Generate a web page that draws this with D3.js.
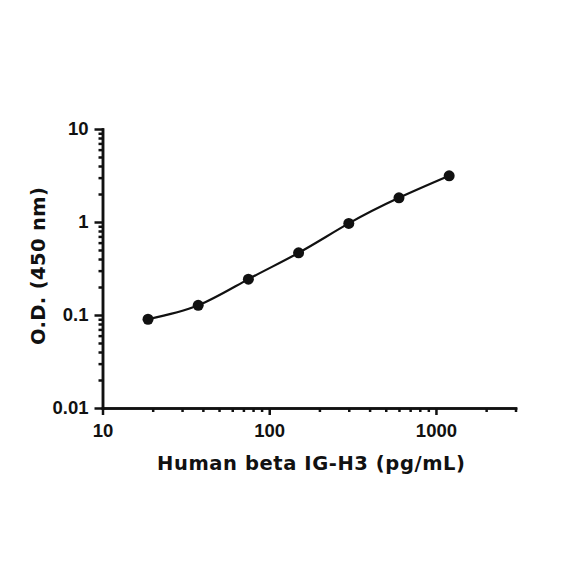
<!DOCTYPE html>
<html>
<head>
<meta charset="utf-8">
<script src="https://cdn.jsdelivr.net/npm/d3@7"></script>
<style>
  body { margin: 0; background: #fff; }
  svg text { font-family: "Liberation Sans", Arial, sans-serif; font-weight: bold; fill: #111; }
  svg text.title { font-family: "DejaVu Sans", sans-serif; }
</style>
</head>
<body>
<div class="svg-target"></div>
<script>
// data
const conc = [18.75, 37.5, 75, 150, 300, 600, 1200];
const od = [0.09, 0.127, 0.243, 0.466, 0.966, 1.82, 3.14];

const xTicks = [10, 100, 1000];
const xTickLabels = ['10', '100', '1000'];
const yTicks = [0.01, 0.1, 1, 10];
const yTickLabels = ['0.01', '0.1', '1', '10'];

const xTitle = 'Human beta IG-H3 (pg/mL)';
const yTitle = 'O.D. (450 nm)';

const w = 584;
const h = 584;

const svg = d3.select('.svg-target')
    .append('svg')
    .attr('width', w)
    .attr('height', h);

// scales
const xScale = d3.scaleLog()
    .domain([10, 3000])
    .range([102.5, 515.5]);

const yScale = d3.scaleLog()
    .domain([0.01, 10])
    .range([408, 129]);

// minor tick values (2..9 per decade)
const xMinor = [];
[10, 100, 1000].forEach(b => {
    for (let k = 2; k <= 9; k++) if (b * k <= 3000) xMinor.push(b * k);
});
const yMinor = [];
[0.01, 0.1, 1].forEach(b => {
    for (let k = 2; k <= 9; k++) yMinor.push(b * k);
});

const styleAxis = g => {
    g.selectAll('path, line')
        .attr('stroke', '#111')
        .attr('stroke-width', 2.5);
    g.select('.domain').attr('stroke-linecap', 'square');
};

// x axis
svg.append('g')
    .attr('transform', 'translate(0, 408)')
    .call(d3.axisBottom(xScale).tickValues(xMinor).tickSize(4).tickSizeOuter(0).tickFormat(''))
    .call(styleAxis);

svg.append('g')
    .attr('transform', 'translate(0, 408)')
    .call(d3.axisBottom(xScale).tickValues(xTicks).tickSize(7).tickSizeOuter(0).tickPadding(9)
        .tickFormat((d, i) => xTickLabels[i]))
    .call(styleAxis)
    .call(g => g.selectAll('text').attr('font-size', 18.5).attr('fill', '#111'));

// y axis
svg.append('g')
    .attr('transform', 'translate(102.5, 0)')
    .call(d3.axisLeft(yScale).tickValues(yMinor).tickSize(4).tickSizeOuter(0).tickFormat(''))
    .call(styleAxis);

svg.append('g')
    .attr('transform', 'translate(102.5, 0)')
    .call(d3.axisLeft(yScale).tickValues(yTicks).tickSize(8).tickSizeOuter(0).tickPadding(6)
        .tickFormat((d, i) => yTickLabels[i]))
    .call(styleAxis)
    .call(g => g.selectAll('text').attr('font-size', 18.5).attr('fill', '#111'));

// axis titles
svg.append('text')
    .attr('class', 'title')
    .attr('x', 311)
    .attr('y', 470)
    .attr('text-anchor', 'middle')
    .attr('font-size', 19.5)
    .attr('textLength', 308)
    .attr('lengthAdjust', 'spacing')
    .text(xTitle);

svg.append('text')
    .attr('class', 'title')
    .attr('transform', 'translate(45, 266) rotate(-90)')
    .attr('text-anchor', 'middle')
    .attr('font-size', 19.5)
    .attr('textLength', 158)
    .attr('lengthAdjust', 'spacing')
    .text(yTitle);

// fitted curve
const line = d3.line()
    .x((d, i) => xScale(conc[i]))
    .y(d => yScale(d))
    .curve(d3.curveNatural);

svg.append('path')
    .datum(od)
    .attr('d', line)
    .attr('fill', 'none')
    .attr('stroke', '#111')
    .attr('stroke-width', 2.2);

// points
svg.selectAll('circle')
    .data(od)
    .enter()
    .append('circle')
        .attr('cx', (d, i) => xScale(conc[i]))
        .attr('cy', d => yScale(d))
        .attr('r', 5.5)
        .attr('fill', '#111');
</script>
</body>
</html>
